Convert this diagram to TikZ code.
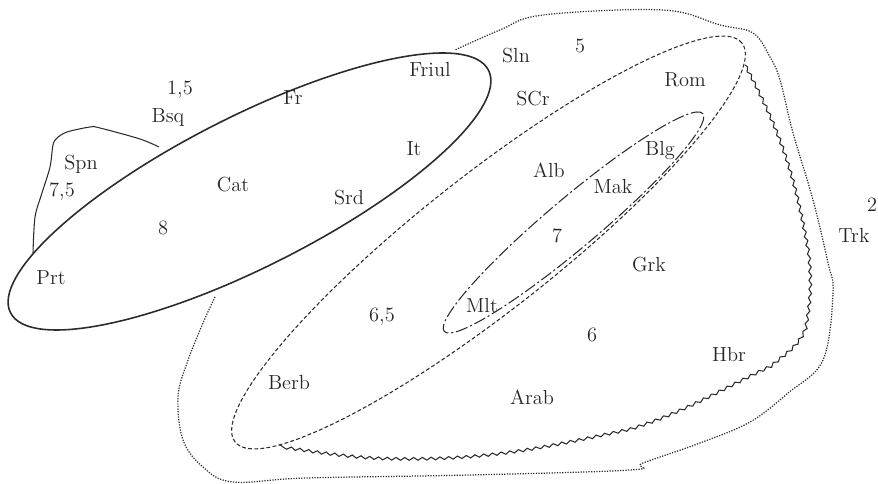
\documentclass[tikz,border=0pt]{standalone}
\usepackage{tikz}
\usetikzlibrary{decorations.pathmorphing}
\definecolor{inkgray}{HTML}{2B2B2B}
\definecolor{labelgray}{HTML}{262626}

\begin{document}
\begin{tikzpicture}[
  lbl/.style={anchor=base, inner sep=0pt, text=labelgray, font=\fontsize{11.6}{14}\selectfont},
  romancering/.style={draw=inkgray, line width=0.9pt},
  balkanring/.style={draw=inkgray, line width=0.6pt, dash pattern=on 2.2pt off 1.3pt},
  corering/.style={draw=inkgray, line width=0.6pt, dash pattern=on 7pt off 1.6pt on 1.2pt off 1.6pt},
  dotline/.style={draw=inkgray, line width=0.7pt, dash pattern=on 0.7pt off 0.8pt},
  wavyline/.style={draw=inkgray, line width=0.6pt, decorate, decoration={snake, amplitude=0.8pt, segment length=5pt}}
]
  \useasboundingbox (0,0) rectangle (17.56,9.68);

  % areas
  \draw[romancering, rotate around={26.9:(4.99,5.85)}] (4.99,5.85) ellipse [x radius=5.36, y radius=1.50];
  \draw[balkanring, rotate around={38.2:(9.77,4.83)}] (9.77,4.83) ellipse [x radius=6.45, y radius=1.35];
  \draw[corering, rotate around={40.1:(11.47,5.23)}] (11.47,5.23) ellipse [x radius=3.38, y radius=0.50];
  \draw[inkgray, line width=0.6pt] plot[smooth, tension=0.5] coordinates {(3.18,6.74) (2.80,6.90) (2.00,7.12) (1.80,7.14) (1.34,7.04) (1.14,6.92) (1.06,6.78) (1.00,6.34) (0.84,5.82) (0.70,5.34) (0.66,4.62)};
  \draw[wavyline] (14.90,8.38) to[out=-62,in=100] (16.16,4.62) to[out=-85,in=80] (16.10,3.18)
    to[out=-110,in=40] (15.40,2.40) to[out=-155,in=18] (12.60,1.14) to[out=-168,in=0] (8.10,0.54)
    to[out=180,in=-8] (5.58,0.78);
  \draw[dotline] plot[smooth, tension=0.6] coordinates {(4.30,3.74) (4.06,3.22) (3.74,2.42) (3.56,1.74) (3.66,0.88) (4.06,0.34) (4.66,0.04) (6.12,0.12) (9.40,0.18) (12.60,0.28) (12.86,0.42) (14.00,0.82) (15.00,1.24) (15.76,1.82) (16.46,2.48) (16.66,3.82) (16.56,4.42) (16.26,5.68) (15.86,7.02) (15.60,8.08) (15.40,8.54) (15.06,9.02) (14.40,9.18) (13.26,9.48) (10.86,9.38) (10.00,9.08) (9.10,8.68)};

  % languages
  \node[lbl] (n15) at (3.60,7.78) {1,5};
  \node[lbl] (bsq) at (3.36,7.22) {Bsq};
  \node[lbl] (fr) at (5.86,7.58) {Fr};
  \node[lbl] (friul) at (8.60,8.14) {Friul};
  \node[lbl] (spn) at (1.62,6.28) {Spn};
  \node[lbl] (n75) at (1.24,5.74) {7,5};
  \node[lbl] (cat) at (4.66,5.84) {Cat};
  \node[lbl] (it) at (8.28,6.56) {It};
  \node[lbl] (srd) at (6.98,5.58) {Srd};
  \node[lbl] (n8) at (3.26,4.98) {8};
  \node[lbl] (prt) at (1.02,3.98) {Prt};
  \node[lbl] (sln) at (10.32,8.42) {Sln};
  \node[lbl] (n5) at (11.60,8.62) {5};
  \node[lbl] (scr) at (10.66,7.56) {SCr};
  \node[lbl] (rom) at (13.70,7.94) {Rom};
  \node[lbl] (alb) at (10.98,6.12) {Alb};
  \node[lbl] (blg) at (13.20,6.56) {Blg};
  \node[lbl] (mak) at (12.26,5.80) {Mak};
  \node[lbl] (n7) at (11.14,4.82) {7};
  \node[lbl] (grk) at (12.98,4.24) {Grk};
  \node[lbl] (n2) at (17.44,5.44) {2};
  \node[lbl] (trk) at (17.08,4.82) {Trk};
  \node[lbl] (mlt) at (9.64,3.42) {Mlt};
  \node[lbl] (n65) at (7.64,3.24) {6,5};
  \node[lbl] (n6) at (11.84,2.84) {6};
  \node[lbl] (hbr) at (14.58,2.44) {Hbr};
  \node[lbl] (berb) at (5.78,1.88) {Berb};
  \node[lbl] (arab) at (10.64,1.58) {Arab};
\end{tikzpicture}
\end{document}
